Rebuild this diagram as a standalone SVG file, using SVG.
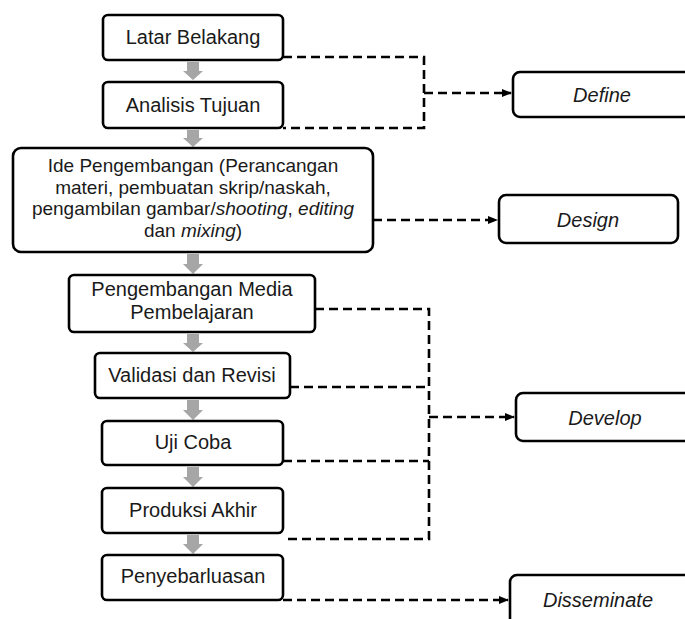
<svg xmlns="http://www.w3.org/2000/svg" width="685" height="619" viewBox="0 0 685 619">
<defs>
<marker id="ah" markerWidth="10" markerHeight="8" refX="9" refY="4" orient="auto" markerUnits="userSpaceOnUse">
<path d="M0,0 L10,4 L0,8 Z" fill="#000"/>
</marker>
<style>
.box{fill:#fff;stroke:#000;stroke-width:2.6}
.t{font-family:"Liberation Sans",Arial,sans-serif;font-size:20px;fill:#1a1a1a;text-anchor:middle}
.s{font-size:19px}
.i{font-style:italic}
.dash{fill:none;stroke:#000;stroke-width:2.6;stroke-dasharray:9 5}
.ga{fill:#a6a6a6}
</style>
</defs>
<rect width="685" height="619" fill="#fff"/>
<g id="gray-arrows">
<path class="ga" d="M187,62 H199 V71 H203 L193,80 L183,71 H187 Z"/>
<path class="ga" d="M187,130 H199 V138 H203 L193,147 L183,138 H187 Z"/>
<path class="ga" d="M187,254 H199 V264 H203 L193,274 L183,264 H187 Z"/>
<path class="ga" d="M187,334 H199 V343 H203 L193,352 L183,343 H187 Z"/>
<path class="ga" d="M187,400 H199 V410 H203 L193,420 L183,410 H187 Z"/>
<path class="ga" d="M187,467 H199 V477 H203 L193,487 L183,477 H187 Z"/>
<path class="ga" d="M187,535 H199 V544 H203 L193,554 L183,544 H187 Z"/>
</g>
<g id="connectors">
<path class="dash" d="M283,57 H424 V128 H283"/>
<path class="dash" d="M424,93 H511" marker-end="url(#ah)"/>
<path class="dash" d="M373,220 H497" marker-end="url(#ah)"/>
<path class="dash" d="M315,309 H429 V539 H283"/>
<path class="dash" d="M290,387 H429"/>
<path class="dash" d="M283,461 H429"/>
<path class="dash" d="M429,417 H514" marker-end="url(#ah)"/>
<path class="dash" d="M283,600 H508" marker-end="url(#ah)"/>
</g>
<g id="latar-belakang">
<rect class="box" x="103" y="15" width="180" height="45" rx="5"/>
<text class="t" x="193" y="44">Latar Belakang</text>
</g>
<g id="analisis-tujuan">
<rect class="box" x="103" y="82" width="180" height="46" rx="5"/>
<text class="t" x="193" y="112">Analisis Tujuan</text>
</g>
<g id="ide-pengembangan">
<rect class="box" x="13" y="148" width="360" height="104" rx="8"/>
<text class="t s" x="193" y="172">Ide Pengembangan (Perancangan</text>
<text class="t s" x="193" y="194">materi, pembuatan skrip/naskah,</text>
<text class="t s" x="193" y="215">pengambilan gambar/<tspan class="i">shooting</tspan>, <tspan class="i">editing</tspan></text>
<text class="t s" x="193" y="237">dan <tspan class="i">mixing</tspan>)</text>
</g>
<g id="pengembangan-media">
<rect class="box" x="69" y="275" width="246" height="57" rx="5"/>
<text class="t" x="192" y="296">Pengembangan Media</text>
<text class="t" x="192" y="319">Pembelajaran</text>
</g>
<g id="validasi">
<rect class="box" x="95" y="353" width="195" height="45" rx="5"/>
<text class="t" x="192" y="382">Validasi dan Revisi</text>
</g>
<g id="uji-coba">
<rect class="box" x="102" y="421" width="181" height="44" rx="5"/>
<text class="t" x="193" y="449">Uji Coba</text>
</g>
<g id="produksi-akhir">
<rect class="box" x="102" y="488" width="181" height="45" rx="5"/>
<text class="t" x="193" y="517">Produksi Akhir</text>
</g>
<g id="penyebarluasan">
<rect class="box" x="102" y="555" width="181" height="45" rx="5"/>
<text class="t" x="193" y="583">Penyebarluasan</text>
</g>
<g id="define">
<rect class="box" x="513" y="72" width="190" height="45" rx="7"/>
<text class="t i" x="602" y="102">Define</text>
</g>
<g id="design">
<rect class="box" x="499" y="195" width="179" height="48" rx="7"/>
<text class="t i" x="588" y="227">Design</text>
</g>
<g id="develop">
<rect class="box" x="516" y="393" width="190" height="48" rx="7"/>
<text class="t i" x="605" y="425">Develop</text>
</g>
<g id="disseminate">
<rect class="box" x="510" y="575" width="190" height="60" rx="7"/>
<text class="t i" x="598" y="607">Disseminate</text>
</g>
</svg>
